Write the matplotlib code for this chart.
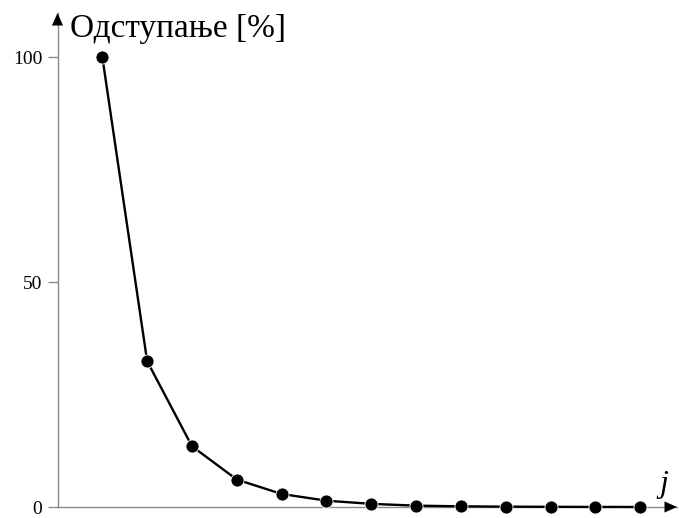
import matplotlib
matplotlib.use("Agg")
import matplotlib.pyplot as plt

# подаци
j = [1, 2, 3, 4, 5, 6, 7, 8, 9, 10, 11, 12, 13]
odstupanje = [100, 32.4, 13.5, 6.1, 2.9, 1.4, 0.7, 0.3, 0.15, 0.08, 0.04, 0.02, 0.01]
yticks = [0, 50, 100]

plt.rcParams['font.family'] = ['Liberation Serif', 'DejaVu Serif']

fig = plt.figure(figsize=(6.79, 5.18), dpi=100)
ax = fig.add_axes([57.5 / 679, 11 / 518, 619.5 / 679, 494 / 518])

ax.plot(j, odstupanje, color='black', lw=1.7, marker='o', ms=9.4,
        mfc='black', mec='white', mew=0.6, clip_on=False, zorder=3)

ax.set_xlim(0, 13.82)
ax.set_ylim(0, 109.8)

for s in ['top', 'right']:
    ax.spines[s].set_visible(False)
for s in ['left', 'bottom']:
    ax.spines[s].set_color('#8a8a8a')
    ax.spines[s].set_linewidth(1.0)

ax.set_xticks([])
ax.set_yticks(yticks)
ax.set_yticklabels([str(v) for v in yticks])
ax.tick_params(axis='y', length=7, width=1, color='#8a8a8a', pad=4, labelsize=14)

# стрелице на осама
ax.annotate('', xy=(0, 1), xytext=(0, 1 - 12 / 494), xycoords='axes fraction',
            arrowprops=dict(facecolor='black', edgecolor='none', width=0.01,
                            headwidth=8, headlength=9, shrink=0))
ax.annotate('', xy=(1, 0), xytext=(1 - 12 / 619.5, 0), xycoords='axes fraction',
            arrowprops=dict(facecolor='black', edgecolor='none', width=0.01,
                            headwidth=8, headlength=9, shrink=0))

fig.text(70 / 679, 1 - 37 / 518, 'Одступање [%]', fontsize=24, va='baseline', ha='left')
fig.text(659 / 679, 1 - 492 / 518, 'j', fontsize=23, style='italic', va='baseline', ha='left')

fig.savefig('out.png', dpi=100)
